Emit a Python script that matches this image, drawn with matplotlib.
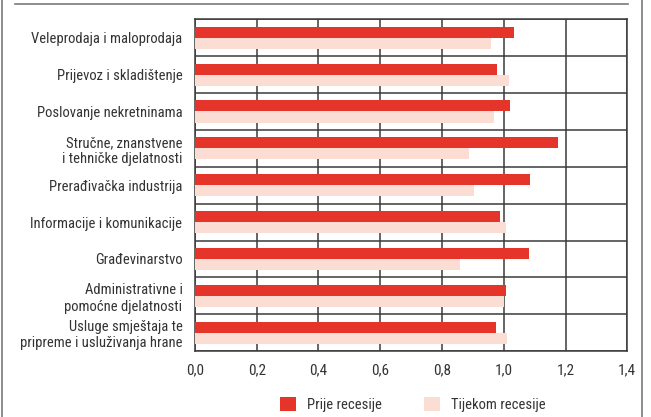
import numpy as np
import matplotlib
matplotlib.use("Agg")
import matplotlib.pyplot as plt
from matplotlib.lines import Line2D

categories = [
    "Veleprodaja i maloprodaja",
    "Prijevoz i skladištenje",
    "Poslovanje nekretninama",
    "Stručne, znanstvene\ni tehničke djelatnosti",
    "Prerađivačka industrija",
    "Informacije i komunikacije",
    "Građevinarstvo",
    "Administrativne i\npomoćne djelatnosti",
    "Usluge smještaja te\npripreme i usluživanja hrane",
]
prije = [1.033, 0.978, 1.020, 1.176, 1.085, 0.988, 1.082, 1.007, 0.975]
tijekom = [0.959, 1.017, 0.968, 0.887, 0.904, 1.007, 0.858, 1.001, 1.010]
series_names = ["Prije recesije", "Tijekom recesije"]
xticks = [0.0, 0.2, 0.4, 0.6, 0.8, 1.0, 1.2, 1.4]
xticklabels = ["0,0", "0,2", "0,4", "0,6", "0,8", "1,0", "1,2", "1,4"]

plt.rcParams["font.family"] = ["Roboto Condensed", "DejaVu Sans"]
plt.rcParams["font.size"] = 10.5

RED = "#e5352a"
PINK = "#fbddd3"
TXT = "#333333"
GRID = "#3a3a3a"

fig = plt.figure(figsize=(6.51, 4.17), dpi=100)
ax = fig.add_axes([0.2995, 0.158, 0.9636 - 0.2995, 0.9537 - 0.158])

y = np.arange(len(categories))
h = 0.3
ax.barh(y - h / 2, prije, height=h, color=RED, label=series_names[0], zorder=3)
ax.barh(y + h / 2, tijekom, height=h, color=PINK, label=series_names[1], zorder=3)

ax.set_xlim(0, 1.4)
ax.set_ylim(len(categories) - 0.5, -0.5)
ax.set_xticks(xticks)
ax.set_xticklabels(xticklabels, color=TXT, fontsize=11)
ax.set_yticks(y)
ax.set_yticklabels(categories, color=TXT, fontsize=10.5)
ax.set_yticks(np.arange(len(categories) + 1) - 0.5, minor=True)
ax.tick_params(axis="x", length=0, pad=9)
ax.tick_params(axis="y", which="both", length=0, pad=9)
ax.grid(axis="x", which="major", color=GRID, linewidth=1.1, zorder=1)
ax.grid(axis="y", which="minor", color=GRID, linewidth=1.1, zorder=1)
ax.set_axisbelow(True)
for s in ax.spines.values():
    s.set_color(GRID)
    s.set_linewidth(1.1)

fig.legend(loc="center", bbox_to_anchor=(0.634, 0.029), ncol=2, frameon=False,
           handlelength=1.1, handleheight=1.1, handletextpad=0.75,
           columnspacing=2.9, fontsize=10.5, labelcolor=TXT)

fcol = "#7a7a7a"
fig.add_artist(Line2D([15 / 651, 628 / 651], [1 - 4 / 417, 1 - 4 / 417], color=fcol, linewidth=1.2, transform=fig.transFigure))
fig.add_artist(Line2D([1.5 / 651, 1.5 / 651], [0, 1], color=fcol, linewidth=1.2, transform=fig.transFigure))
fig.add_artist(Line2D([642 / 651, 642 / 651], [0, 1], color=fcol, linewidth=1.2, transform=fig.transFigure))

fig.savefig("out.png", dpi=100)
